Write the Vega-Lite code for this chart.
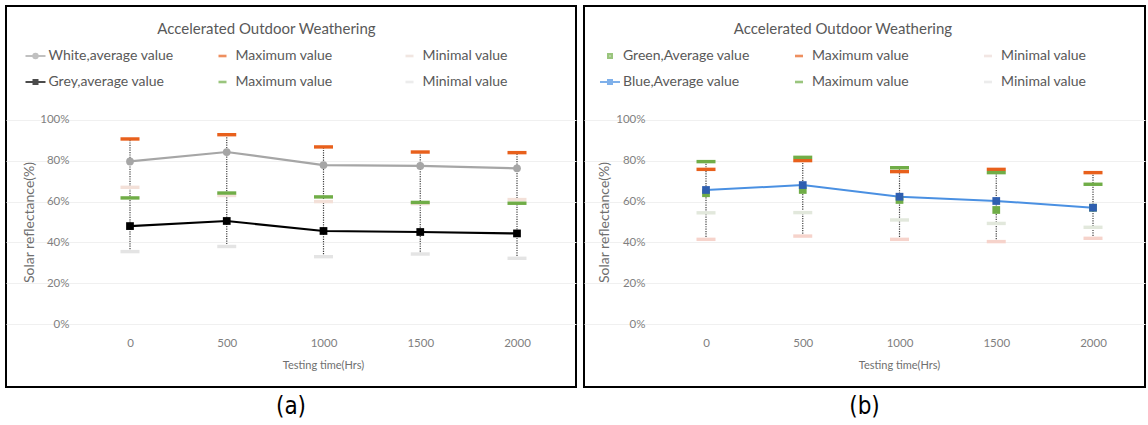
{
  "$schema": "https://vega.github.io/schema/vega-lite/v6.json",
  "padding": {"left": 5, "top": 5, "right": 0, "bottom": 0},
  "background": "white",
  "bounds": "flush",
  "spacing": 8,
  "config": {
    "view": {"stroke": "#000000", "strokeWidth": 2},
    "font": "Lato",
    "axis": {"domain": false, "ticks": false, "labelFont": "Lato", "labelFontSize": 11.5, "labelColor": "#7f7f7f", "titleFont": "Lato", "titleFontWeight": "normal", "titleColor": "#6f6f6f", "labelFlush": false, "labelOverlap": false, "labelBound": false},
    "legend": {"labelFont": "Lato", "titleFont": "Lato"}
  },
  "datasets": {
    "a": [
      {"time": 0, "key": "White,average value", "value": 79.7},
      {"time": 500, "key": "White,average value", "value": 84.3},
      {"time": 1000, "key": "White,average value", "value": 77.9},
      {"time": 1500, "key": "White,average value", "value": 77.5},
      {"time": 2000, "key": "White,average value", "value": 76.3},
      {"time": 0, "key": "White max", "value": 90.7},
      {"time": 500, "key": "White max", "value": 92.8},
      {"time": 1000, "key": "White max", "value": 86.8},
      {"time": 1500, "key": "White max", "value": 84.3},
      {"time": 2000, "key": "White max", "value": 84.0},
      {"time": 0, "key": "White min", "value": 67},
      {"time": 500, "key": "White min", "value": 63},
      {"time": 1000, "key": "White min", "value": 60},
      {"time": 1500, "key": "White min", "value": 59},
      {"time": 2000, "key": "White min", "value": 61},
      {"time": 0, "key": "Grey,average value", "value": 48.0},
      {"time": 500, "key": "Grey,average value", "value": 50.5},
      {"time": 1000, "key": "Grey,average value", "value": 45.6},
      {"time": 1500, "key": "Grey,average value", "value": 45.1},
      {"time": 2000, "key": "Grey,average value", "value": 44.4},
      {"time": 0, "key": "Grey max", "value": 61.8},
      {"time": 500, "key": "Grey max", "value": 64.2},
      {"time": 1000, "key": "Grey max", "value": 62.3},
      {"time": 1500, "key": "Grey max", "value": 59.6},
      {"time": 2000, "key": "Grey max", "value": 59.2},
      {"time": 0, "key": "Grey min", "value": 35.5},
      {"time": 500, "key": "Grey min", "value": 38},
      {"time": 1000, "key": "Grey min", "value": 33},
      {"time": 1500, "key": "Grey min", "value": 34.3},
      {"time": 2000, "key": "Grey min", "value": 32.2}
    ],
    "b": [
      {"time": 0, "key": "Green,Average value", "value": 64.1},
      {"time": 500, "key": "Green,Average value", "value": 65.7},
      {"time": 1000, "key": "Green,Average value", "value": 60.8},
      {"time": 1500, "key": "Green,Average value", "value": 55.9},
      {"time": 2000, "key": "Green,Average value", "value": 57.0},
      {"time": 0, "key": "Green max", "value": 75.8},
      {"time": 500, "key": "Green max", "value": 80.1},
      {"time": 1000, "key": "Green max", "value": 74.7},
      {"time": 1500, "key": "Green max", "value": 75.8},
      {"time": 2000, "key": "Green max", "value": 74.2},
      {"time": 0, "key": "Green min", "value": 41.5},
      {"time": 500, "key": "Green min", "value": 43.1},
      {"time": 1000, "key": "Green min", "value": 41.5},
      {"time": 1500, "key": "Green min", "value": 40.4},
      {"time": 2000, "key": "Green min", "value": 42},
      {"time": 0, "key": "Blue,Average value", "value": 65.7},
      {"time": 500, "key": "Blue,Average value", "value": 68.1},
      {"time": 1000, "key": "Blue,Average value", "value": 62.4},
      {"time": 1500, "key": "Blue,Average value", "value": 60.3},
      {"time": 2000, "key": "Blue,Average value", "value": 57.0},
      {"time": 0, "key": "Blue max", "value": 79.6},
      {"time": 500, "key": "Blue max", "value": 81.7},
      {"time": 1000, "key": "Blue max", "value": 76.6},
      {"time": 1500, "key": "Blue max", "value": 74.2},
      {"time": 2000, "key": "Blue max", "value": 68.5},
      {"time": 0, "key": "Blue min", "value": 54.5},
      {"time": 500, "key": "Blue min", "value": 54.6},
      {"time": 1000, "key": "Blue min", "value": 51},
      {"time": 1500, "key": "Blue min", "value": 49.3},
      {"time": 2000, "key": "Blue min", "value": 47.4}
    ]
  },
  "resolve": {
    "scale": {"x": "independent", "y": "independent", "color": "independent", "fill": "independent", "stroke": "independent", "shape": "independent"},
    "legend": {"color": "independent", "fill": "independent", "stroke": "independent", "shape": "independent"}
  },
  "hconcat": [
    {
      "width": 570,
      "height": 381,
      "title": {"text": "(a)", "orient": "bottom", "anchor": "middle", "font": "Liberation Sans Narrow, DejaVu Sans Condensed, sans-serif", "fontSize": 24, "fontWeight": "normal", "color": "#000000", "offset": 8},
      "data": {"name": "a"},
      "encoding": {
        "x": {"field": "time", "type": "quantitative", "scale": {"domain": [-640.8, 2304.9], "nice": false, "zero": false},
          "axis": {"values": [0, 500, 1000, 1500, 2000], "format": "d", "grid": false, "offset": -54, "labelPadding": 4, "title": "Testing time(Hrs)", "titleFontSize": 11, "titleX": 317, "titleY": 32, "titleBaseline": "middle"}},
        "y": {"field": "value", "type": "quantitative", "scale": {"domain": [-30.88, 155.88], "nice": false, "zero": false},
          "axis": {"values": [0, 20, 40, 60, 80, 100], "grid": true, "gridColor": "#f0f0f0", "labelExpr": "datum.value + '%'", "offset": -67, "labelPadding": 4, "title": "Solar reflectance(%)", "titleFontSize": 14, "titleX": -37, "titleY": 216}}
      },
      "layer": [
        {
          "transform": [{"aggregate": [{"op": "min", "field": "value", "as": "lo"}, {"op": "max", "field": "value", "as": "hi"}], "groupby": ["time"]}],
          "mark": {"type": "rule", "color": "#404040", "strokeWidth": 1.2, "strokeDash": [1.2, 1.2]},
          "encoding": {"y": {"field": "lo", "type": "quantitative"}, "y2": {"field": "hi"}}
        },
        {
          "transform": [{"filter": "indexof(lower(datum.key), 'average') >= 0"}],
          "mark": {"type": "line", "strokeWidth": 2.2},
          "encoding": {"color": {"field": "key", "type": "nominal", "legend": null,
            "scale": {"domain": ["Grey min", "Grey max", "Grey,average value", "White min", "White max", "White,average value"], "range": ["#e4e4e4", "#70ad47", "#000000", "#f3e0d8", "#e8601c", "#a6a6a6"]}}}
        },
        {
          "transform": [{"filter": "indexof(lower(datum.key), 'average') < 0"}],
          "mark": {"type": "point", "shape": "M-1,-0.18H1V0.18H-1Z", "filled": true, "size": 361, "opacity": 1},
          "encoding": {"color": {"field": "key", "type": "nominal", "legend": null,
            "scale": {"domain": ["Grey min", "Grey max", "Grey,average value", "White min", "White max", "White,average value"], "range": ["#e4e4e4", "#70ad47", "#000000", "#f3e0d8", "#e8601c", "#a6a6a6"]}}}
        },
        {
          "transform": [{"filter": "datum.key == 'White,average value'"}],
          "mark": {"type": "point", "shape": "circle", "filled": true, "size": 60, "opacity": 1},
          "encoding": {"color": {"field": "key", "type": "nominal", "legend": null,
            "scale": {"domain": ["Grey min", "Grey max", "Grey,average value", "White min", "White max", "White,average value"], "range": ["#e4e4e4", "#70ad47", "#000000", "#f3e0d8", "#e8601c", "#a6a6a6"]}}}
        },
        {
          "transform": [{"filter": "datum.key == 'Grey,average value'"}],
          "mark": {"type": "point", "shape": "square", "filled": true, "size": 60, "opacity": 1},
          "encoding": {"color": {"field": "key", "type": "nominal", "legend": null,
            "scale": {"domain": ["Grey min", "Grey max", "Grey,average value", "White min", "White max", "White,average value"], "range": ["#e4e4e4", "#70ad47", "#000000", "#f3e0d8", "#e8601c", "#a6a6a6"]}}}
        },
        {
          "transform": [{"filter": "datum.value < -1000"}],
          "mark": {"type": "point", "filled": true, "strokeWidth": 2},
          "encoding": {
            "fill": {"field": "key", "type": "nominal",
              "scale": {"domain": ["White,average value", "White max", "White min", "Grey,average value", "Grey max", "Grey min"], "range": ["#a6a6a6", "#e8601c", "#ecdcd5", "#000000", "#70ad47", "#e4e4e4"]},
              "legend": {"title": "Accelerated Outdoor Weathering", "orient": "none", "direction": "horizontal", "legendX": 18.5, "legendY": 16, "columns": 3, "columnPadding": 38, "rowPadding": 8, "gridAlign": "all", "symbolSize": 400, "symbolStrokeWidth": 2, "labelFontSize": 14, "labelColor": "#595959", "labelOffset": 2, "labelLimit": 300, "labelExpr": "indexof(datum.label, 'max') >= 0 ? 'Maximum value' : indexof(datum.label, 'min') >= 0 ? 'Minimal value' : datum.label", "titleFontSize": 15, "titleFontWeight": "normal", "titleColor": "#595959", "titleAnchor": "middle", "titleLimit": 600, "titlePadding": 8}},
            "stroke": {"field": "key", "type": "nominal",
              "scale": {"domain": ["White,average value", "White max", "White min", "Grey,average value", "Grey max", "Grey min"], "range": ["#a6a6a6", "#e8601c", "#ecdcd5", "#000000", "#70ad47", "#e4e4e4"]},
              "legend": {"title": "Accelerated Outdoor Weathering", "orient": "none", "direction": "horizontal", "legendX": 18.5, "legendY": 16, "columns": 3, "columnPadding": 38, "rowPadding": 8, "gridAlign": "all", "symbolSize": 400, "symbolStrokeWidth": 2, "labelFontSize": 14, "labelColor": "#595959", "labelOffset": 2, "labelLimit": 300, "labelExpr": "indexof(datum.label, 'max') >= 0 ? 'Maximum value' : indexof(datum.label, 'min') >= 0 ? 'Minimal value' : datum.label", "titleFontSize": 15, "titleFontWeight": "normal", "titleColor": "#595959", "titleAnchor": "middle", "titleLimit": 600, "titlePadding": 8}},
            "shape": {"field": "key", "type": "nominal",
              "scale": {"domain": ["White,average value", "White max", "White min", "Grey,average value", "Grey max", "Grey min"], "range": ["M-1,0H1M-0.22,0A0.22,0.22,0,1,1,0.22,0A0.22,0.22,0,1,1,-0.22,0Z", "M-0.3,-0.03H0.3V0.03H-0.3Z", "M-0.3,-0.03H0.3V0.03H-0.3Z", "M-1,0H1M-0.2,-0.2H0.2V0.2H-0.2Z", "M-0.3,-0.03H0.3V0.03H-0.3Z", "M-0.3,-0.03H0.3V0.03H-0.3Z"]},
              "legend": {"title": "Accelerated Outdoor Weathering", "orient": "none", "direction": "horizontal", "legendX": 18.5, "legendY": 16, "columns": 3, "columnPadding": 38, "rowPadding": 8, "gridAlign": "all", "symbolSize": 400, "symbolStrokeWidth": 2, "labelFontSize": 14, "labelColor": "#595959", "labelOffset": 2, "labelLimit": 300, "labelExpr": "indexof(datum.label, 'max') >= 0 ? 'Maximum value' : indexof(datum.label, 'min') >= 0 ? 'Minimal value' : datum.label", "titleFontSize": 15, "titleFontWeight": "normal", "titleColor": "#595959", "titleAnchor": "middle", "titleLimit": 600, "titlePadding": 8}}
          }
        }
      ]
    },
    {
      "width": 561,
      "height": 381,
      "title": {"text": "(b)", "orient": "bottom", "anchor": "middle", "font": "Liberation Sans Narrow, DejaVu Sans Condensed, sans-serif", "fontSize": 24, "fontWeight": "normal", "color": "#000000", "offset": 8},
      "data": {"name": "b"},
      "encoding": {
        "x": {"field": "time", "type": "quantitative", "scale": {"domain": [-630.5, 2268.7], "nice": false, "zero": false},
          "axis": {"values": [0, 500, 1000, 1500, 2000], "format": "d", "grid": false, "offset": -54, "labelPadding": 4, "title": "Testing time(Hrs)", "titleFontSize": 11, "titleX": 315, "titleY": 32, "titleBaseline": "middle"}},
        "y": {"field": "value", "type": "quantitative", "scale": {"domain": [-30.88, 155.88], "nice": false, "zero": false},
          "axis": {"values": [0, 20, 40, 60, 80, 100], "grid": true, "gridColor": "#f0f0f0", "labelExpr": "datum.value + '%'", "offset": -65, "labelPadding": 4, "title": "Solar reflectance(%)", "titleFontSize": 14, "titleX": -38, "titleY": 216}}
      },
      "layer": [
        {
          "transform": [{"aggregate": [{"op": "min", "field": "value", "as": "lo"}, {"op": "max", "field": "value", "as": "hi"}], "groupby": ["time"]}],
          "mark": {"type": "rule", "color": "#404040", "strokeWidth": 1.2, "strokeDash": [1.2, 1.2]},
          "encoding": {"y": {"field": "lo", "type": "quantitative"}, "y2": {"field": "hi"}}
        },
        {
          "transform": [{"filter": "datum.key == 'Blue,Average value'"}],
          "mark": {"type": "line", "strokeWidth": 2, "color": "#4a90e2"},
          "encoding": {}
        },
        {
          "transform": [{"filter": "indexof(lower(datum.key), 'average') < 0"}],
          "mark": {"type": "point", "shape": "M-1,-0.18H1V0.18H-1Z", "filled": true, "size": 361, "opacity": 1},
          "encoding": {"color": {"field": "key", "type": "nominal", "legend": null,
            "scale": {"domain": ["Blue min", "Blue max", "Blue,Average value", "Green min", "Green max", "Green,Average value"], "range": ["#e2e8dc", "#70ad47", "#2f5fb0", "#f6d3cb", "#e8601c", "#70ad47"]}}}
        },
        {
          "transform": [{"filter": "indexof(lower(datum.key), 'average') >= 0"}],
          "mark": {"type": "point", "shape": "square", "filled": true, "size": 60, "opacity": 1},
          "encoding": {"color": {"field": "key", "type": "nominal", "legend": null,
            "scale": {"domain": ["Blue min", "Blue max", "Blue,Average value", "Green min", "Green max", "Green,Average value"], "range": ["#e2e8dc", "#70ad47", "#2f5fb0", "#f6d3cb", "#e8601c", "#70ad47"]}}}
        },
        {
          "transform": [{"filter": "datum.value < -1000"}],
          "mark": {"type": "point", "filled": true, "strokeWidth": 2},
          "encoding": {
            "fill": {"field": "key", "type": "nominal",
              "scale": {"domain": ["Green,Average value", "Green max", "Green min", "Blue,Average value", "Blue max", "Blue min"], "range": ["#70ad47", "#e8601c", "#eddcd8", "#2f5fb0", "#70ad47", "#e4e4e4"]},
              "legend": {"title": "Accelerated Outdoor Weathering", "orient": "none", "direction": "horizontal", "legendX": 15, "legendY": 16, "columns": 3, "columnPadding": 38, "rowPadding": 8, "gridAlign": "all", "symbolSize": 400, "symbolStrokeWidth": 2, "labelFontSize": 14, "labelColor": "#595959", "labelOffset": 2, "labelLimit": 300, "labelExpr": "indexof(datum.label, 'max') >= 0 ? 'Maximum value' : indexof(datum.label, 'min') >= 0 ? 'Minimal value' : datum.label", "titleFontSize": 15, "titleFontWeight": "normal", "titleColor": "#595959", "titleAnchor": "middle", "titleLimit": 600, "titlePadding": 8}},
            "stroke": {"field": "key", "type": "nominal",
              "scale": {"domain": ["Green,Average value", "Green max", "Green min", "Blue,Average value", "Blue max", "Blue min"], "range": ["#70ad47", "#e8601c", "#eddcd8", "#4a90e2", "#70ad47", "#e4e4e4"]},
              "legend": {"title": "Accelerated Outdoor Weathering", "orient": "none", "direction": "horizontal", "legendX": 15, "legendY": 16, "columns": 3, "columnPadding": 38, "rowPadding": 8, "gridAlign": "all", "symbolSize": 400, "symbolStrokeWidth": 2, "labelFontSize": 14, "labelColor": "#595959", "labelOffset": 2, "labelLimit": 300, "labelExpr": "indexof(datum.label, 'max') >= 0 ? 'Maximum value' : indexof(datum.label, 'min') >= 0 ? 'Minimal value' : datum.label", "titleFontSize": 15, "titleFontWeight": "normal", "titleColor": "#595959", "titleAnchor": "middle", "titleLimit": 600, "titlePadding": 8}},
            "shape": {"field": "key", "type": "nominal",
              "scale": {"domain": ["Green,Average value", "Green max", "Green min", "Blue,Average value", "Blue max", "Blue min"], "range": ["M-0.2,-0.2H0.2V0.2H-0.2Z", "M-0.3,-0.03H0.3V0.03H-0.3Z", "M-0.3,-0.03H0.3V0.03H-0.3Z", "M-1,0H1M-0.2,-0.2H0.2V0.2H-0.2Z", "M-0.3,-0.03H0.3V0.03H-0.3Z", "M-0.3,-0.03H0.3V0.03H-0.3Z"]},
              "legend": {"title": "Accelerated Outdoor Weathering", "orient": "none", "direction": "horizontal", "legendX": 15, "legendY": 16, "columns": 3, "columnPadding": 38, "rowPadding": 8, "gridAlign": "all", "symbolSize": 400, "symbolStrokeWidth": 2, "labelFontSize": 14, "labelColor": "#595959", "labelOffset": 2, "labelLimit": 300, "labelExpr": "indexof(datum.label, 'max') >= 0 ? 'Maximum value' : indexof(datum.label, 'min') >= 0 ? 'Minimal value' : datum.label", "titleFontSize": 15, "titleFontWeight": "normal", "titleColor": "#595959", "titleAnchor": "middle", "titleLimit": 600, "titlePadding": 8}}
          }
        }
      ]
    }
  ]
}
